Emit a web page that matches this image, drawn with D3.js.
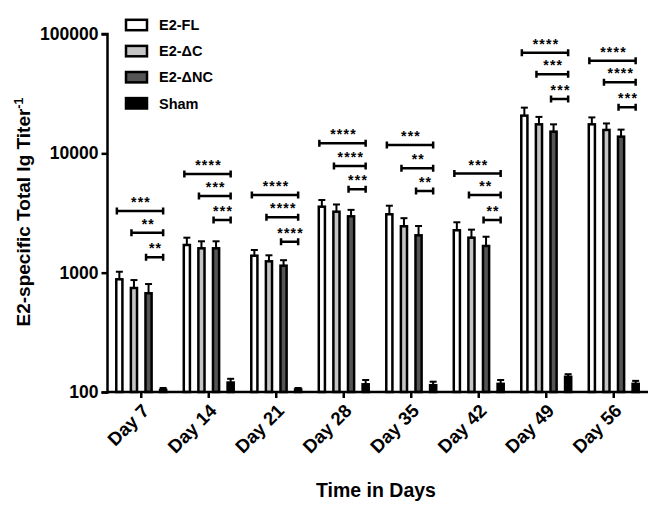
<!DOCTYPE html>
<html>
<head>
<meta charset="utf-8">
<script src="https://cdn.jsdelivr.net/npm/d3@7"></script>
<style>
  body{margin:0;background:#fff;}
  svg{display:block;font-family:"Liberation Sans",Arial,Helvetica,sans-serif;font-weight:bold;}
</style>
</head>
<body>
<svg id="chart" width="648" height="505"></svg>
<script>
'use strict';

var days=['Day 7','Day 14','Day 21','Day 28','Day 35','Day 42','Day 49','Day 56'];
var seriesNames=['E2-FL','E2-\u0394C','E2-\u0394NC','Sham'];
var seriesFill=['#ffffff','#c4c4c4','#555555','#000000'];

// mean titer and top of error bar, per day
var flMean=[880,1706,1387,3571,3085,2266,20700,17500];
var flTop=[1018,1964,1549,4064,3640,2644,24150,20000];
var dcMean=[744,1600,1245,3243,2448,1964,17500,15700];
var dcTop=[867,1832,1398,3728,2862,2294,20200,17800];
var dncMean=[672,1600,1144,2966,2056,1674,15200,13800];
var dncTop=[803,1832,1272,3359,2460,2000,17500,15800];
var shamMean=[104,120,105,116,114,117,134,117];
var shamTop=[108,129,108,126,122,126,141,124];

// significance brackets (vs Sham), level in titer units
var sigLevel1=[3288,6714,4478,12130,11750,6770,69700,59700];
var sigLevel2=[2163,4390,2912,7834,7500,4478,45900,39400];
var sigLevel3=[1345,2762,1818,5000,4833,2762,28530,24300];
var sigStars1=['***','****','****','****','***','***','****','****'];
var sigStars2=['**','***','****','****','**','**','***','****'];
var sigStars3=['**','***','****','***','**','**','***','***'];

var yTicks=[100,1000,10000,100000];

var means=[flMean,dcMean,dncMean,shamMean]
  , tops=[flTop,dcTop,dncTop,shamTop]
  , levels=[sigLevel1,sigLevel2,sigLevel3]
  , stars=[sigStars1,sigStars2,sigStars3];

var svg=d3.select('#chart');

var x=d3.scaleBand().domain(days).range([107.5,647.5]).padding(0);
var x1=d3.scaleBand().domain(d3.range(4)).range([-29.2,29.2]).paddingInner(0.58).paddingOuter(0.29);
var y=d3.scaleLog().domain([100,100000]).range([392,34]);

var groups=svg.append('g').selectAll('g')
    .data(days)
    .join('g')
    .attr('transform',function(d){return 'translate('+(x(d)+x.bandwidth()/2)+',0)';});

groups.each(function(day,di){
    var g=d3.select(this);
    for(var s=0;s<4;s++){
        var bx=x1(s), cx=bx+x1.bandwidth()/2;
        // error bar
        g.append('line')
            .attr('x1',cx).attr('x2',cx)
            .attr('y1',y(means[s][di])).attr('y2',y(tops[s][di]))
            .attr('stroke','#000').attr('stroke-width',2);
        g.append('line')
            .attr('x1',cx-3.5).attr('x2',cx+3.5)
            .attr('y1',y(tops[s][di])).attr('y2',y(tops[s][di]))
            .attr('stroke','#000').attr('stroke-width',2);
        g.append('rect')
            .attr('x',bx)
            .attr('y',y(means[s][di]))
            .attr('width',x1.bandwidth())
            .attr('height',y(100)-y(means[s][di]))
            .attr('fill',seriesFill[s])
            .attr('stroke','#000')
            .attr('stroke-width',2.5);
    }
    var right=x1(3)+x1.bandwidth()/2;
    for(var k=0;k<3;k++){
        var left=x1(k)+x1.bandwidth()/2-2.5
          , ly=y(levels[k][di]);
        g.append('path')
            .attr('d','M'+left+','+ly+'H'+right+'M'+left+','+(ly-3.5)+'V'+(ly+3.5)+'M'+right+','+(ly-3.5)+'V'+(ly+3.5))
            .attr('fill','none').attr('stroke','#000').attr('stroke-width',2.5);
        g.append('text')
            .attr('x',(left+right)/2+1)
            .attr('y',ly-4)
            .attr('text-anchor','middle')
            .attr('font-size',14)
            .attr('letter-spacing',1.2)
            .text(stars[k][di]);
    }
});

// axes
var yAxis=svg.append('g')
    .attr('transform','translate(107.5,0)')
    .call(d3.axisLeft(y).tickValues(yTicks).tickFormat(d3.format('d')).tickSize(6).tickPadding(3));
var xAxis=svg.append('g')
    .attr('transform','translate(0,392)')
    .call(d3.axisBottom(x).tickSize(6).tickSizeOuter(0));

[yAxis,xAxis].forEach(function(a){
    a.select('.domain').attr('stroke-width',2.5);
    a.selectAll('.tick line').attr('stroke-width',2.5);
});
yAxis.select('.domain').attr('d','M-6,392.5H0V34H-6');
yAxis.selectAll('.tick text')
    .attr('font-size',17.5)
    .attr('font-family','"Liberation Sans",Arial,sans-serif')
    .attr('font-weight','bold')
    .attr('fill','#000');
xAxis.select('.domain').attr('d','M107.5,0H648');
xAxis.selectAll('.tick text')
    .attr('font-size',18.5)
    .attr('font-family','"Liberation Sans",Arial,sans-serif')
    .attr('font-weight','bold')
    .attr('fill','#000')
    .attr('text-anchor','end')
    .attr('x',0).attr('y',0).attr('dy',0)
    .attr('transform','translate(9,20) rotate(-45)');

// axis titles
svg.append('text')
    .attr('x',376).attr('y',497)
    .attr('text-anchor','middle')
    .attr('font-size',19.5)
    .text('Time in Days');

var yt=svg.append('text')
    .attr('transform','translate(30,212) rotate(-90)')
    .attr('text-anchor','middle')
    .attr('font-size',19);
yt.append('tspan').text('E2-specific Total Ig Titer');
yt.append('tspan').attr('dy',-7).attr('font-size',12.5).text('-1');

// legend
var legend=svg.append('g').attr('transform','translate(126,25)');
var li=legend.selectAll('g')
    .data(seriesNames)
    .join('g')
    .attr('transform',function(d,i){return 'translate(0,'+(i*26.1)+')';});
li.append('rect')
    .attr('x',0).attr('y',-5.2)
    .attr('width',21).attr('height',10.4)
    .attr('fill',function(d,i){return seriesFill[i];})
    .attr('stroke','#000').attr('stroke-width',2.5);
li.append('text')
    .attr('x',33).attr('y',0)
    .attr('dy','0.36em')
    .attr('font-size',14.5)
    .text(function(d){return d;});
</script>
</body>
</html>
